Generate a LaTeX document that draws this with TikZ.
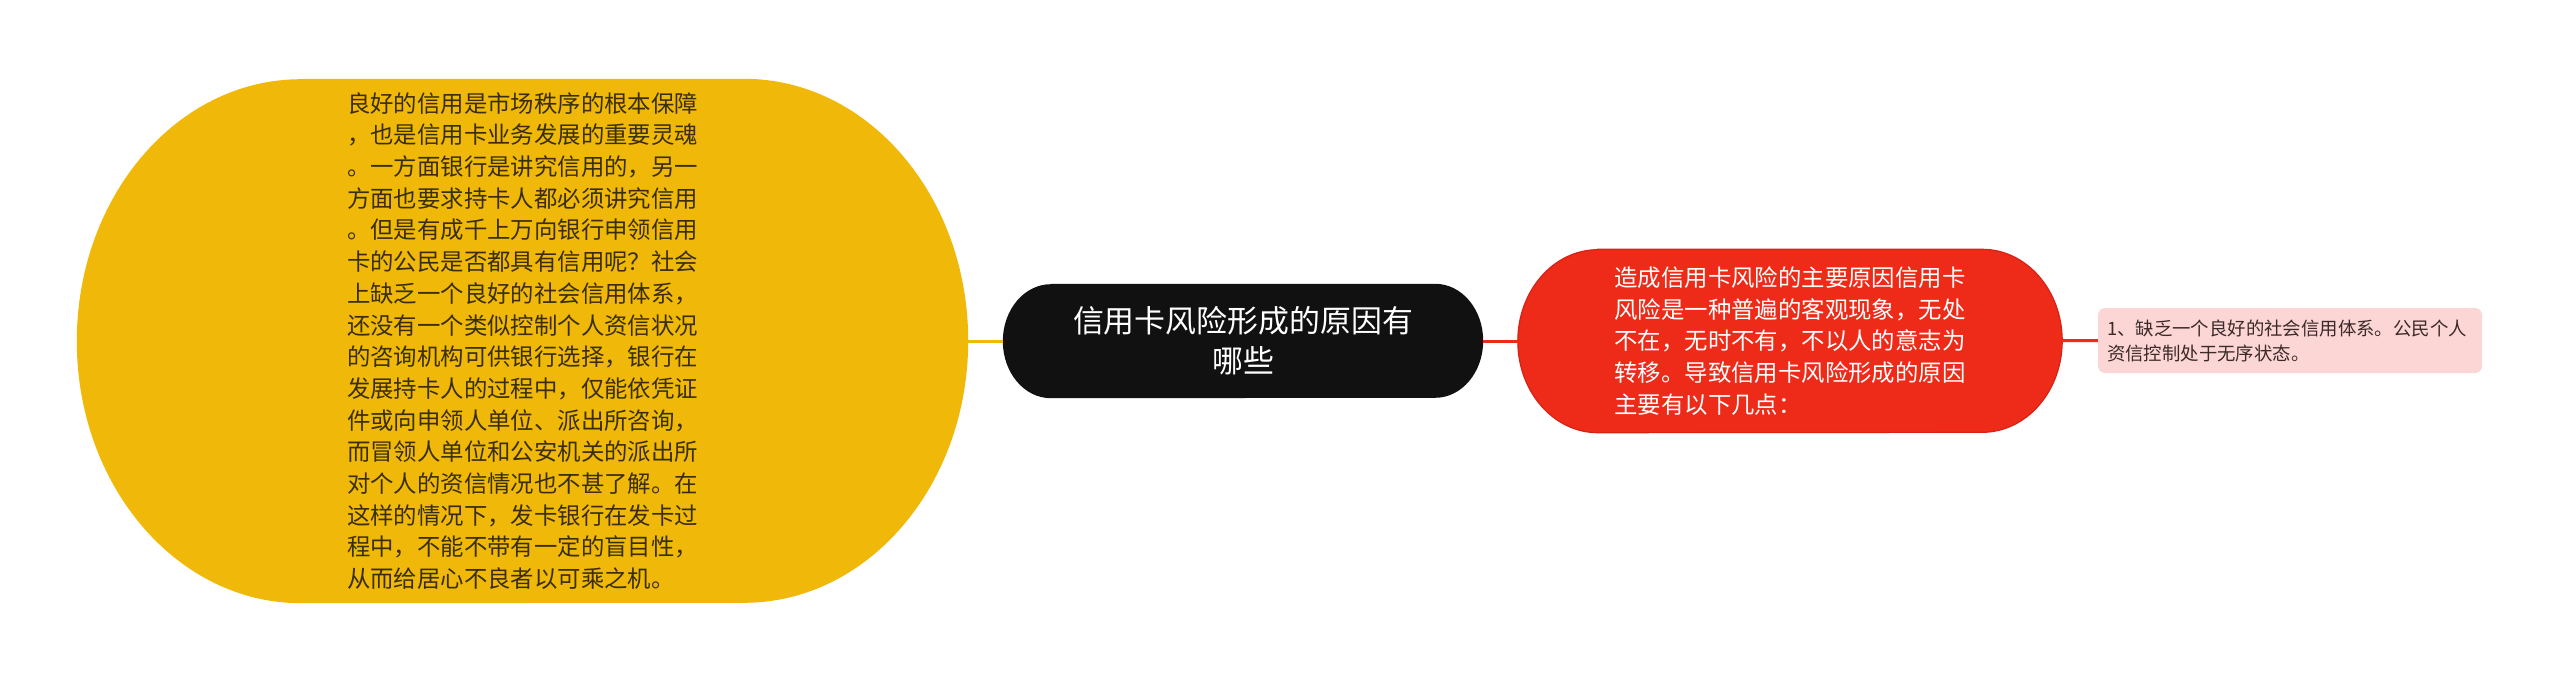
\documentclass[tikz,border=0pt]{standalone}
\usepackage{fontspec}
\setmainfont{Noto Sans CJK SC}
\usepackage{tikz}
\usetikzlibrary{positioning,backgrounds}

\definecolor{goldfill}{HTML}{F0B90A}
\definecolor{goldtext}{HTML}{3A2E06}
\definecolor{rootfill}{HTML}{111111}
\definecolor{redfill}{HTML}{EE2A18}
\definecolor{rededge}{HTML}{D62316}
\definecolor{pinkfill}{HTML}{FCD6D4}
\definecolor{pinktext}{HTML}{3C2A2A}

\begin{document}
\begin{tikzpicture}[x=1pt,y=-1pt,
    pill/.style={rectangle,inner sep=0pt},
    bodytext/.style={align=left,font=\fontsize{23.4pt}{31.7pt}\selectfont}]
    \useasboundingbox (0,0) rectangle (2560,682);

    \node[pill,text=goldtext,bodytext,minimum width=891pt,minimum height=524pt] (detail) at (522.5,341) {良好的信用是市场秩序的根本保障\\，也是信用卡业务发展的重要灵魂\\。一方面银行是讲究信用的，另一\\方面也要求持卡人都必须讲究信用\\。但是有成千上万向银行申领信用\\卡的公民是否都具有信用呢？社会\\上缺乏一个良好的社会信用体系，\\还没有一个类似控制个人资信状况\\的咨询机构可供银行选择，银行在\\发展持卡人的过程中，仅能依凭证\\件或向申领人单位、派出所咨询，\\而冒领人单位和公安机关的派出所\\对个人的资信情况也不甚了解。在\\这样的情况下，发卡银行在发卡过\\程中，不能不带有一定的盲目性，\\从而给居心不良者以可乘之机。};
    \node[pill,text=white,align=center,font=\fontsize{30.9pt}{40pt}\selectfont,minimum width=480pt,minimum height=114pt] (root) at (1243,341) {信用卡风险形成的原因有\\哪些};
    \node[pill,text=white,bodytext,minimum width=544pt,minimum height=183pt] (cause) at (1790,341) {造成信用卡风险的主要原因信用卡\\风险是一种普遍的客观现象，无处\\不在，无时不有，不以人的意志为\\转移。导致信用卡风险形成的原因\\主要有以下几点：};
    \node[rectangle,rounded corners=7pt,fill=pinkfill,text=pinktext,inner xsep=9pt,inner ysep=0pt,text width=366pt,align=left,minimum height=65pt,font=\fontsize{18.4pt}{25pt}\selectfont] (item) at (2290,340.5) {1、缺乏一个良好的社会信用体系。公民个人\\资信控制处于无序状态。};

    % pill backgrounds with elliptic ends
    \begin{scope}[on background layer]
        \fill[goldfill] ([xshift=224pt]detail.north west) -- ([xshift=-224pt]detail.north east)
            arc[start angle=90,end angle=-90,x radius=224pt,y radius=262pt]
            -- ([xshift=224pt]detail.south west)
            arc[start angle=270,end angle=90,x radius=224pt,y radius=262pt] -- cycle;
        \fill[rootfill] ([xshift=48pt]root.north west) -- ([xshift=-48pt]root.north east)
            arc[start angle=90,end angle=-90,x radius=48pt,y radius=57pt]
            -- ([xshift=48pt]root.south west)
            arc[start angle=270,end angle=90,x radius=48pt,y radius=57pt] -- cycle;
        \filldraw[fill=redfill,draw=rededge,line width=1.2pt] ([xshift=80pt]cause.north west) -- ([xshift=-80pt]cause.north east)
            arc[start angle=90,end angle=-90,x radius=80pt,y radius=91.5pt]
            -- ([xshift=80pt]cause.south west)
            arc[start angle=270,end angle=90,x radius=80pt,y radius=91.5pt] -- cycle;
    \end{scope}

    \draw[goldfill,line width=3pt] (detail) -- (root);
    \draw[redfill,line width=3pt] (root) -- (cause);
    \draw[redfill,line width=3pt] (cause) -- (item);

\end{tikzpicture}
\end{document}
